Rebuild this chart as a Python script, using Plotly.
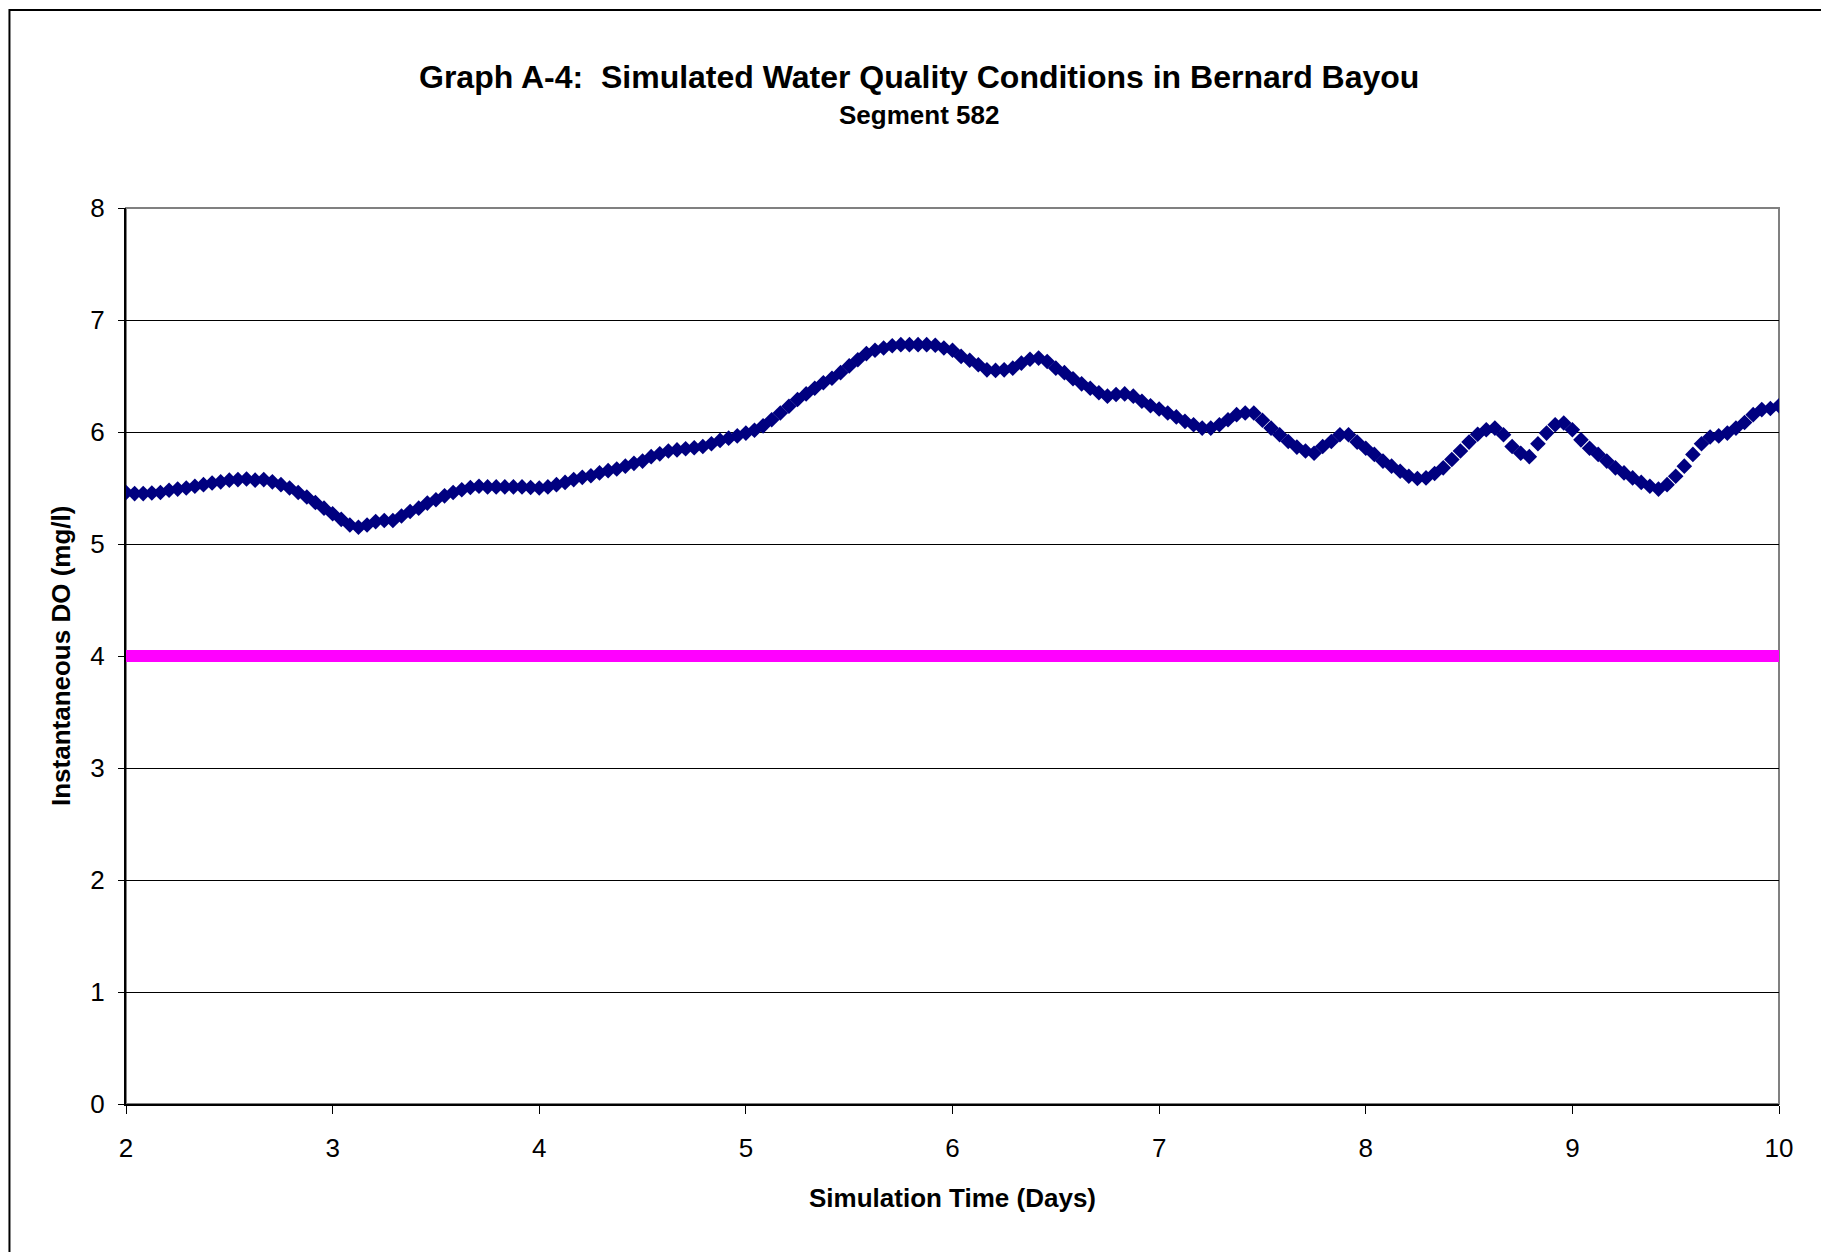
import numpy as np
import plotly.graph_objects as go

# hourly simulated DO, day 2.0 -> day 10.0
start_day = 2
do_mgl = [
    5.46, 5.45, 5.45, 5.455, 5.46, 5.48, 5.49, 5.50, 5.515, 5.53,
    5.545, 5.555, 5.57, 5.575, 5.58, 5.57, 5.575, 5.555, 5.53, 5.50,
    5.46, 5.42, 5.37, 5.32, 5.27, 5.22, 5.17, 5.15, 5.17, 5.20,
    5.21, 5.21, 5.25, 5.29, 5.32, 5.365, 5.395, 5.43, 5.46, 5.485,
    5.505, 5.515, 5.51, 5.51, 5.51, 5.51, 5.51, 5.505, 5.50, 5.51,
    5.53, 5.55, 5.575, 5.595, 5.61, 5.635, 5.655, 5.67, 5.695, 5.72,
    5.74, 5.78, 5.805, 5.83, 5.84, 5.85, 5.86, 5.87, 5.895, 5.925,
    5.945, 5.965, 5.99, 6.015, 6.055, 6.11, 6.17, 6.23, 6.29, 6.34,
    6.39, 6.44, 6.48, 6.53, 6.59, 6.645, 6.70, 6.73, 6.75, 6.77,
    6.78, 6.78, 6.78, 6.78, 6.775, 6.75, 6.73, 6.675, 6.64, 6.60,
    6.555, 6.55, 6.555, 6.57, 6.615, 6.65, 6.66, 6.63, 6.57, 6.53,
    6.475, 6.43, 6.39, 6.35, 6.32, 6.335, 6.34, 6.32, 6.275, 6.235,
    6.205, 6.17, 6.135, 6.095, 6.065, 6.035, 6.035, 6.065, 6.11, 6.155,
    6.17, 6.17, 6.105, 6.035, 5.975, 5.915, 5.865, 5.83, 5.81, 5.87,
    5.915, 5.975, 5.975, 5.91, 5.855, 5.80, 5.74, 5.695, 5.65, 5.605,
    5.585, 5.59, 5.63, 5.68, 5.755, 5.83, 5.91, 5.98, 6.02, 6.035,
    5.975, 5.87, 5.81, 5.78, 5.895, 5.99, 6.065, 6.08, 6.02, 5.93,
    5.855, 5.80, 5.74, 5.68, 5.635, 5.59, 5.55, 5.515, 5.49, 5.53,
    5.605, 5.695, 5.80, 5.895, 5.955, 5.965, 5.99, 6.035, 6.085, 6.155,
    6.20, 6.21, 6.235,
]
days = start_day + np.arange(len(do_mgl)) / 24.0

# DO criterion line
criterion_days = [2, 10]
criterion_do = [4, 4]

x_ticks = [2, 3, 4, 5, 6, 7, 8, 9, 10]
y_ticks = [0, 1, 2, 3, 4, 5, 6, 7, 8]

FONT = "Liberation Sans, Arial, sans-serif"

fig = go.Figure()
fig.add_trace(go.Scatter(
    x=criterion_days, y=criterion_do, mode="lines",
    line=dict(color="#FF00FF", width=12), showlegend=False,
))
fig.add_trace(go.Scatter(
    x=days, y=do_mgl, mode="markers",
    marker=dict(symbol="diamond", size=12, color="#000080",
                line=dict(width=0)),
    showlegend=False,
))

fig.update_layout(
    width=1829, height=1252,
    margin=dict(l=118, r=58, t=200, b=156),
    paper_bgcolor="white", plot_bgcolor="white",
    font=dict(family=FONT, size=26, color="black"),
    showlegend=False,
)
fig.update_xaxes(
    range=[2, 10], tickvals=x_ticks, showgrid=False, zeroline=False,
    showline=True, linecolor="black", linewidth=2,
    ticks="outside", ticklen=8, tickcolor="black", ticklabelstandoff=12,
)
fig.update_yaxes(
    range=[0, 8], tickvals=y_ticks, showgrid=True, gridcolor="black",
    gridwidth=1, zeroline=False,
    showline=True, linecolor="black", linewidth=2,
    ticks="outside", ticklen=6, tickcolor="black", ticklabelstandoff=8,
)

# plot frame and outer chart border
fig.add_shape(type="rect", xref="paper", yref="paper", x0=0, x1=1, y0=0, y1=1,
              line=dict(color="#808080", width=2), layer="below")
fig.add_shape(type="rect", xref="paper", yref="paper",
              x0=-0.0705, x1=1.03, y0=-0.2, y1=1.221,
              line=dict(color="black", width=2))

fig.add_annotation(text="<b>Graph A-4:  Simulated Water Quality Conditions in Bernard Bayou</b>",
                   xref="paper", yref="paper", x=0.48, y=1.146, showarrow=False,
                   font=dict(size=32, family=FONT), xanchor="center", yanchor="middle")
fig.add_annotation(text="<b>Segment 582</b>",
                   xref="paper", yref="paper", x=0.48, y=1.104, showarrow=False,
                   font=dict(size=26, family=FONT), xanchor="center", yanchor="middle")
fig.add_annotation(text="<b>Simulation Time (Days)</b>",
                   xref="paper", yref="paper", x=0.5, y=-0.105, showarrow=False,
                   font=dict(size=26, family=FONT), xanchor="center", yanchor="middle")
fig.add_annotation(text="<b>Instantaneous DO (mg/l)</b>",
                   xref="paper", yref="paper", x=-0.0393, y=0.5, showarrow=False,
                   textangle=-90,
                   font=dict(size=26, family=FONT), xanchor="center", yanchor="middle")

fig.write_html("out.html")
